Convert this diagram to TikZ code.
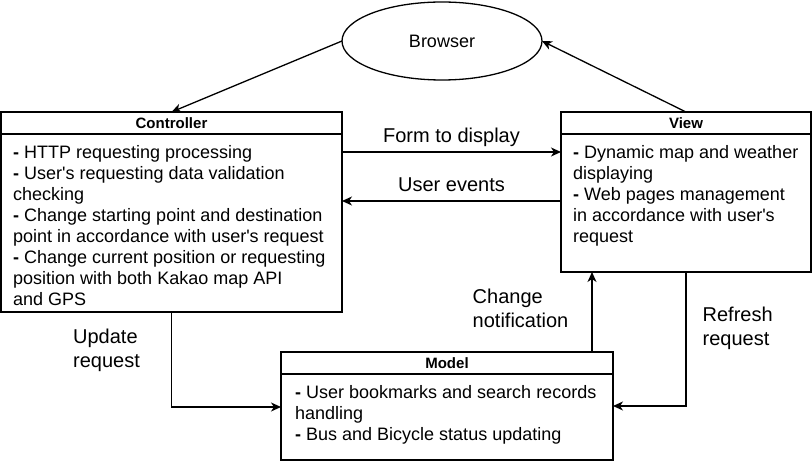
\documentclass[tikz,border=0pt]{standalone}
\usepackage{fontspec}
\setmainfont{Liberation Sans}
\usetikzlibrary{positioning,arrows.meta,shapes.geometric}

\begin{document}
\begin{tikzpicture}[
    x=1pt, y=-1pt,
    headnode/.style={rectangle, draw=black, line width=1.3pt, outer sep=0pt, inner sep=0pt, minimum height=22pt, font=\bfseries\fontsize{15}{18}\selectfont},
    bodynode/.style={rectangle, draw=black, line width=1.3pt, outer sep=0pt, inner sep=0pt},
    bodytext/.style={anchor=north west, align=left, inner sep=0pt, font=\fontsize{18}{21}\selectfont},
    roundnode/.style={ellipse, draw=black, line width=1.3pt, outer sep=0pt, minimum width=200pt, minimum height=78pt, font=\fontsize{18}{21}\selectfont},
    flowline/.style={-{Stealth[length=10pt,width=9pt,inset=3pt]}, draw=black, line width=1.3pt},
    flowlabel/.style={align=left, inner sep=0pt, font=\fontsize{20}{24}\selectfont}
    ]
    \useasboundingbox (0,0) rectangle (812,462);

        %Nodes
        \node[roundnode]
            (browser)   at (442,41)             {Browser};
        \node[headnode, minimum width=341pt]
            (ctrl)      at (171.5,123)          {Controller};
        \node[bodynode, minimum width=341pt, minimum height=178pt]
            (ctrlB)     [below=0pt of ctrl]     {};
        \node[headnode, minimum width=250pt]
            (view)      at (686,123)            {View};
        \node[bodynode, minimum width=250pt, minimum height=138pt]
            (viewB)     [below=0pt of view]     {};
        \node[headnode, minimum width=332pt]
            (model)     at (447,363)            {Model};
        \node[bodynode, minimum width=332pt, minimum height=86pt]
            (modelB)    [below=0pt of model]    {};

        %Box texts
        \node[bodytext] (ctrlT) at ([xshift=12pt,yshift=-11.5pt]ctrlB.north west)
            {\textbf{-} HTTP requesting processing\\
             \textbf{-} User\textquotesingle s requesting data validation\\
             checking\\
             \textbf{-} Change starting point and destination\\
             point in accordance with user\textquotesingle s request\\
             \textbf{-} Change current position or requesting\\
             position with both Kakao map API\\
             and GPS};
        \node[bodytext] (viewT) at ([xshift=12pt,yshift=-11.5pt]viewB.north west)
            {\textbf{-} Dynamic map and weather\\
             displaying\\
             \textbf{-} Web pages management\\
             in accordance with user\textquotesingle s\\
             request};
        \node[bodytext] (modelT) at ([xshift=14pt,yshift=-11.5pt]modelB.north west)
            {\textbf{-} User bookmarks and search records\\
             handling\\
             \textbf{-} Bus and Bicycle status updating};

        %Lines
        \draw[flowline]
            (browser.west) -- (ctrl.north);
        \draw[flowline]
            (view.north) -- (browser.east);
        \draw[flowline]
            ([yshift=-18pt]ctrlB.north east) -- node[flowlabel, above=4.5pt] {Form to display} ([yshift=-18pt]viewB.north west);
        \draw[flowline]
            ([yshift=-67pt]viewB.north west) -- node[flowlabel, above=9pt] {User events} ([yshift=-67pt]ctrlB.north east);
        \draw[flowline]
            (ctrlB.south) |- node[flowlabel, pos=0.2, left=31pt] {Update\\request} ([yshift=10pt]modelB.west);
        \draw[flowline]
            ([xshift=145pt]model.north) -- node[flowlabel, pos=0.55, left=23pt] {Change\\notification} ([xshift=-94pt]viewB.south);
        \draw[flowline]
            (viewB.south) |- node[flowlabel, pos=0.21, right=16pt] {Refresh\\request} ([yshift=11pt]modelB.east);
    \end{tikzpicture}
\end{document}
